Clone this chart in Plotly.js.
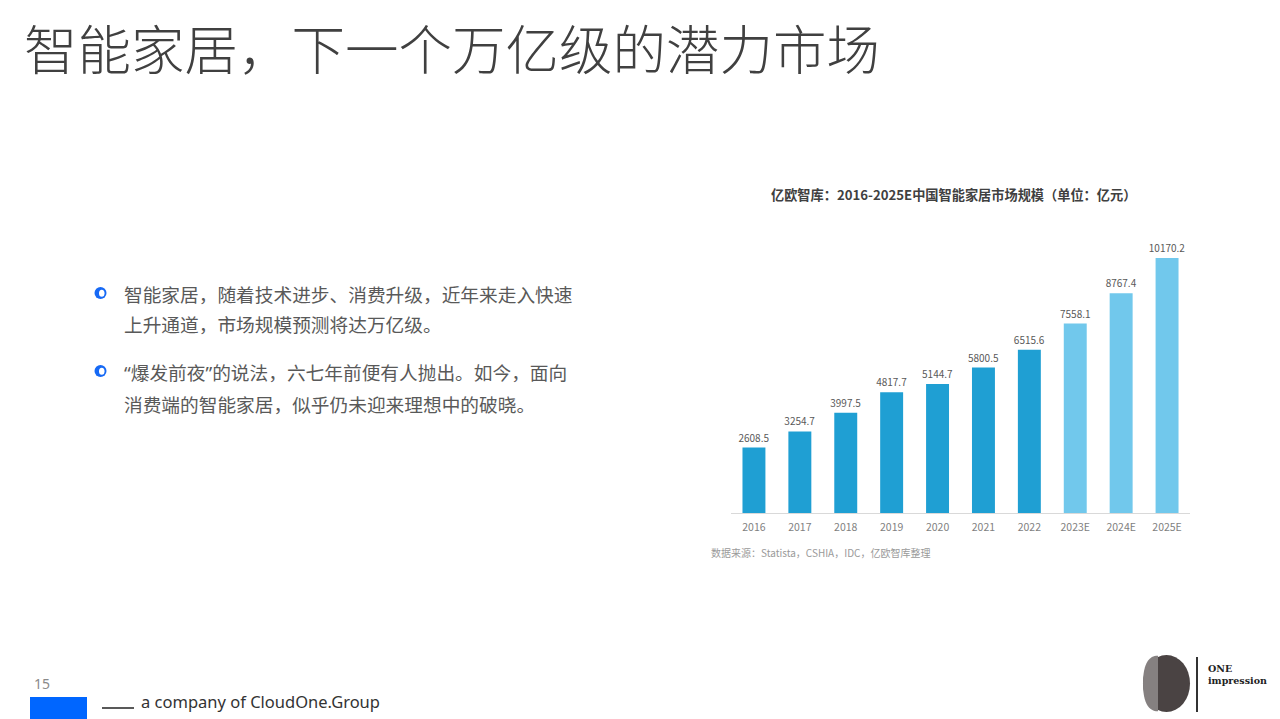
<!DOCTYPE html>
<html>
<head>
<meta charset="utf-8">
<script src="https://cdn.plot.ly/plotly-3.0.1.min.js"></script>
<style>
html,body{margin:0;padding:0;background:#fff;}
#chart{width:1280px;height:719px;}
</style>
</head>
<body>
<div id="chart"></div>
<script>
// ---- data ----
const years = ["2016","2017","2018","2019","2020","2021","2022","2023E","2024E","2025E"];
const marketSize = [2608.5,3254.7,3997.5,4817.7,5144.7,5800.5,6515.6,7558.1,8767.4,10170.2];
const isForecast = [false,false,false,false,false,false,false,true,true,true];
const chartTitle = "亿欧智库：2016-2025E中国智能家居市场规模（单位：亿元）";
const sourceNote = "数据来源：Statista，CSHIA，IDC，亿欧智库整理";
const slideTitle = "智能家居，下一个万亿级的潜力市场";
const bulletLines = [
  ["智能家居，随着技术进步、消费升级，近年来走入快速", "上升通道，市场规模预测将达万亿级。"],
  ["“爆发前夜”的说法，六七年前便有人抛出。如今，面向", "消费端的智能家居，似乎仍未迎来理想中的破晓。"]
];

// ---- layout helpers (pixel -> paper) ----
const L = 731, T = 230, W = 459, H = 283;
const px = x => (x - L) / W;
const py = y => (T + H - y) / H;
const CJK = '"Noto Sans CJK SC", "Noto Sans", sans-serif';
const LATIN = '"Noto Sans", sans-serif';

const colorActual = "#1f9fd3";
const colorForecast = "#71c8ec";

const trace = {
  type: "bar",
  x: years,
  y: marketSize,
  marker: { color: isForecast.map(f => f ? colorForecast : colorActual) },
  text: marketSize.map(v => v.toFixed(1)),
  textposition: "outside",
  constraintext: "none",
  textfont: { family: CJK, size: 10, color: "#595959" },
  cliponaxis: false,
  hoverinfo: "x+y"
};

const ann = [];
function addText(text, x, y, size, color, opts) {
  ann.push(Object.assign({
    text: text, xref: "paper", yref: "paper", x: px(x), y: py(y),
    xanchor: "left", yanchor: "middle", showarrow: false,
    font: { family: CJK, size: size, color: color }
  }, opts || {}));
}
// narrow (Latin) curly quotes inside CJK text
const fixQuotes = s => s.replace(/[“”]/g, q => '<span style="font-family:' + "'Noto Sans'" + '">' + q + '</span>');

// slide title
addText(slideTitle, 22, 46, 53.5, "#404040", { font: { family: CJK, size: 53.5, color: "#404040", weight: 300 } });
// chart title
addText("<b>" + chartTitle + "</b>", 953, 194, 13.2, "#404040", { xanchor: "center" });
// source
addText(sourceNote, 709, 552, 10, "#9a9a9a");
// bullets
const bulletY = [[293, 323], [371, 403]];
bulletLines.forEach((lines, i) => {
  lines.forEach((ln, j) => addText(fixQuotes(ln), 122, bulletY[i][j], 18.7, "#595959"));
});
// page number & footer
addText("15", 32, 683, 14, "#8a8a8a", { font: { family: LATIN, size: 14, color: "#8a8a8a" } });
addText("a company of CloudOne.Group", 139, 701, 16.5, "#333333", { font: { family: LATIN, size: 16.5, color: "#333333" } });
// logo text
const SERIF = '"DejaVu Serif", "Liberation Serif", serif';
addText("<b>ONE</b>", 1206, 668, 9.5, "#222222", { font: { family: SERIF, size: 9.5, color: "#222222" } });
addText("<b>impression</b>", 1206, 680, 9.5, "#222222", { font: { family: SERIF, size: 9.5, color: "#222222" } });

const shapes = [];
function rect(x0, y0, x1, y1, fill) {
  shapes.push({ type: "rect", xref: "paper", yref: "paper", x0: px(x0), x1: px(x1), y0: py(y0), y1: py(y1),
    fillcolor: fill, line: { width: 0 }, layer: "above" });
}
// bullet icons
bulletY.forEach(b => {
  const cy = b[0];
  shapes.push({ type: "circle", xref: "paper", yref: "paper", x0: px(94.5), x1: px(106.5), y0: py(cy + 6), y1: py(cy - 6),
    fillcolor: "#1669f5", line: { width: 0 } });
  shapes.push({ type: "circle", xref: "paper", yref: "paper", x0: px(99), x1: px(104.5), y0: py(cy + 3.8), y1: py(cy - 3.2),
    fillcolor: "#ffffff", line: { width: 0 } });
});
// footer blue block and line
rect(30, 697, 87, 719, "#0066ff");
shapes.push({ type: "line", xref: "paper", yref: "paper", x0: px(102), x1: px(134), y0: py(708), y1: py(708),
  line: { color: "#222222", width: 1.5 } });
// logo: oval with lighter left side
shapes.push({ type: "circle", xref: "paper", yref: "paper", x0: px(1143), x1: px(1190), y0: py(712), y1: py(655),
  fillcolor: "#4a4343", line: { width: 0 } });
shapes.push({ type: "path", xref: "paper", yref: "paper",
  path: "M " + px(1143) + " " + py(683.5) + " C " + px(1143) + " " + py(662) + " " + px(1150) + " " + py(655.5) + " " + px(1158) + " " + py(655.8) + " L " + px(1158) + " " + py(711.2) + " C " + px(1150) + " " + py(711.5) + " " + px(1143) + " " + py(705) + " " + px(1143) + " " + py(683.5) + " Z",
  fillcolor: "#858080", line: { width: 0 } });
shapes.push({ type: "line", xref: "paper", yref: "paper", x0: px(1197), x1: px(1197), y0: py(657), y1: py(712),
  line: { color: "#333333", width: 2 } });

const layout = {
  width: 1280, height: 719,
  margin: { l: L, r: 1280 - L - W, t: T, b: 719 - T - H, pad: 0 },
  paper_bgcolor: "#ffffff", plot_bgcolor: "#ffffff",
  showlegend: false,
  bargap: 0.5,
  xaxis: {
    type: "category", showline: true, linecolor: "#d9d9d9", linewidth: 1,
    showgrid: false, zeroline: false, ticks: "", ticklabelstandoff: 4,
    tickfont: { family: CJK, size: 10.5, color: "#7f7f7f" }
  },
  yaxis: { range: [0, 11290], visible: false, showgrid: false, zeroline: false, fixedrange: true },
  annotations: ann,
  shapes: shapes,
  font: { family: CJK }
};

Plotly.newPlot("chart", [trace], layout, { displayModeBar: false, staticPlot: true });
</script>
</body>
</html>
